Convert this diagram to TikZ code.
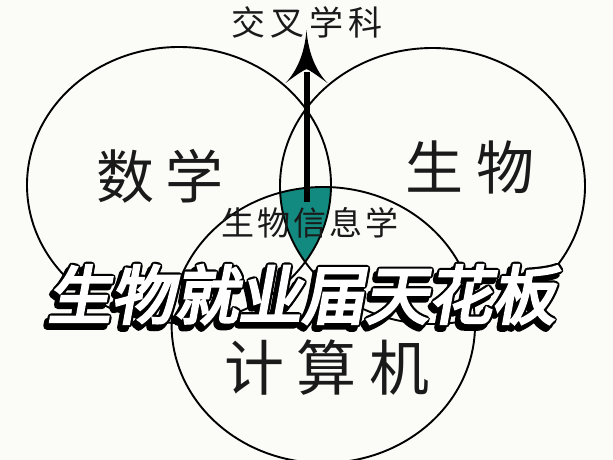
\documentclass[tikz,border=0pt]{standalone}
\usepackage{fontspec}
\newfontfamily\cjk{Noto Sans CJK SC}
\newfontfamily\bannerfill[FakeBold=4.5,FakeSlant=0.18]{Noto Sans CJK SC}
\newfontfamily\bannerline[FakeBold=11.5,FakeSlant=0.18]{Noto Sans CJK SC}
\definecolor{bg}{HTML}{FBFCF7}
\definecolor{tealfill}{HTML}{138A80}
\definecolor{ink}{HTML}{1A1A1A}
\newcommand{\bannerwords}{生物就业届天花板}
\newcommand{\roundjoin}{\special{pdf:code 1 j 1 J}}
\begin{document}
\begin{tikzpicture}[x=1pt,y=-1pt,
  ring/.style={draw=black, line width=1.9pt},
  lbl/.style={inner sep=0pt, text=ink},
  big/.style={lbl, font=\cjk\fontsize{58}{60}\selectfont},
  small/.style={lbl, font=\cjk\fontsize{33}{35}\selectfont},
  bannerback/.style={inner sep=0pt, text=black, font=\bannerline\fontsize{63.5}{65}\selectfont},
  bannerfront/.style={inner sep=0pt, text=white, font=\bannerfill\fontsize{63.5}{65}\selectfont}]
\fill[bg] (0,0) rectangle (613,460);
\useasboundingbox (0,0) rectangle (613,460);
\coordinate (cL) at (179,185);
\coordinate (cR) at (432.5,186);
\coordinate (cB) at (323.3,325);
% triple intersection
\begin{scope}
  \clip (cL) ellipse [x radius=152pt, y radius=138pt];
  \clip (cR) ellipse [x radius=152.5pt, y radius=138pt];
  \fill[tealfill] (cB) ellipse [x radius=151.7pt, y radius=138pt];
\end{scope}
\draw[ring] (cL) ellipse [x radius=152pt, y radius=138pt];
\draw[ring] (cR) ellipse [x radius=152.5pt, y radius=138pt];
\draw[ring] (cB) ellipse [x radius=151.7pt, y radius=138pt];
% arrow
\coordinate (arrowbase) at (306.5,202);
\coordinate (arrowneck) at (306.5,72);
\coordinate (arrowtip) at (306.5,30);
\draw[line width=6pt] (arrowbase) -- (arrowneck);
\fill[black] (arrowtip) .. controls (304.5,55) and (296,72) .. (285.5,83)
  .. controls (295,76) and (302,71) .. (306.5,69)
  .. controls (311,71) and (318,76) .. (327.5,83)
  .. controls (317,72) and (308.5,55) .. (arrowtip) -- cycle;
% labels
\node[lbl, font=\cjk\fontsize{34}{36}\selectfont] (cross) at (307,22) {交\hspace{5pt}叉\hspace{5pt}学\hspace{5pt}科};
\node[big] (math) at (160,176) {数\hspace{12pt}学};
\node[big] (bio) at (470,167) {生\hspace{14pt}物};
\node[big, font=\cjk\fontsize{60}{62}\selectfont] (comp) at (327,368) {计\hspace{13pt}算\hspace{13pt}机};
\node[small] (bioinfo) at (310,223) {生\hspace{3pt}物\hspace{3pt}信\hspace{3pt}息\hspace{3pt}学};
% banner: shadow, outline, white face
\node[bannerback] (bannershadow) at (298,299) {\roundjoin\bannerwords};
\node[bannerback] (banneroutline) at (301.5,294.5) {\roundjoin\bannerwords};
\node[bannerfront] (banner) at (301.5,294.5) {\bannerwords};
\end{tikzpicture}
\end{document}
